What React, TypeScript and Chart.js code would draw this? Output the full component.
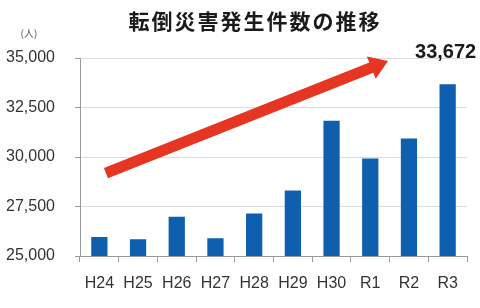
import React, { useEffect, useRef } from "react";
import { Chart, registerables } from "chart.js";

Chart.register(...registerables);

const TITLE = "転倒災害発生件数の推移";
const UNIT = "(人)";
const categories = ["H24", "H25", "H26", "H27", "H28", "H29", "H30", "R1", "R2", "R3"];
const cases = [25960, 25840, 26980, 25900, 27150, 28310, 31830, 29930, 30930, 33672];
const yTicks = [25000, 27500, 30000, 32500, 35000];
// trend arrow annotation in data coordinates: [categoryIndex, value]
const arrowStart = [0.17, 29190];
const arrowEnd = [7.46, 34850];

const NUM_FONT = "'Liberation Sans', Arial, sans-serif";

const overlay = {
  id: "overlay",
  afterDatasetsDraw(chart: any) {
    const { ctx, scales } = chart;
    const x = scales.x;
    const y = scales.y;
    ctx.save();
    // arrow
    const x0 = x.getPixelForValue(arrowStart[0]);
    const y0 = y.getPixelForValue(arrowStart[1]);
    const x1 = x.getPixelForValue(arrowEnd[0]);
    const y1 = y.getPixelForValue(arrowEnd[1]);
    const ang = Math.atan2(y1 - y0, x1 - x0);
    const headLen = 18;
    const headW = 12;
    const shaftW = 5.5;
    const bx = x1 - headLen * Math.cos(ang);
    const by = y1 - headLen * Math.sin(ang);
    const nx = -Math.sin(ang);
    const ny = Math.cos(ang);
    ctx.fillStyle = "#e63522";
    ctx.beginPath();
    ctx.moveTo(x0 + nx * shaftW, y0 + ny * shaftW);
    ctx.lineTo(bx + nx * shaftW, by + ny * shaftW);
    ctx.lineTo(bx + nx * headW, by + ny * headW);
    ctx.lineTo(x1, y1);
    ctx.lineTo(bx - nx * headW, by - ny * headW);
    ctx.lineTo(bx - nx * shaftW, by - ny * shaftW);
    ctx.lineTo(x0 - nx * shaftW, y0 - ny * shaftW);
    ctx.closePath();
    ctx.fill();

    // last value label
    const last = cases.length - 1;
    ctx.fillStyle = "#1a1a1a";
    ctx.font = "bold 20px 'Liberation Sans', Arial, sans-serif";
    ctx.textAlign = "center";
    ctx.textBaseline = "alphabetic";
    ctx.fillText(cases[last].toLocaleString("en-US"), x.getPixelForValue(last) - 2, y.getPixelForValue(35000));

    // title
    ctx.fillStyle = "#1a1a1a";
    ctx.font = "bold 21px 'Noto Sans CJK JP', sans-serif";
    (ctx as any).letterSpacing = "2px";
    ctx.textAlign = "center";
    ctx.textBaseline = "middle";
    ctx.fillText(TITLE, 255, 21);
    (ctx as any).letterSpacing = "0px";

    // unit
    ctx.fillStyle = "#555";
    ctx.font = "10px 'Noto Sans CJK JP', sans-serif";
    ctx.textAlign = "center";
    ctx.fillText(UNIT, 29, 33);
    ctx.restore();
  },
};

export default function App() {
  const ref = useRef<HTMLCanvasElement>(null);
  useEffect(() => {
    const chart = new Chart(ref.current!, {
      type: "bar",
      data: {
        labels: categories,
        datasets: [
          {
            data: cases,
            backgroundColor: "#0e5fae",
            barPercentage: 0.42,
            categoryPercentage: 1,
          },
        ],
      },
      options: {
        animation: false,
        responsive: false,
        layout: { padding: { top: 58, right: 13, left: 0, bottom: 0 } },
        plugins: { legend: { display: false }, tooltip: { enabled: false }, title: { display: false } },
        scales: {
          x: {
            grid: { display: true, drawOnChartArea: false, drawTicks: true, tickLength: 6, color: "#9a9a9a", offset: true },
            border: { color: "#9a9a9a" },
            ticks: { color: "#333", font: { family: NUM_FONT, size: 16 }, padding: 12, maxRotation: 0, minRotation: 0, autoSkip: false },
            afterFit: (s: any) => { s.height = 52; },
          },
          y: {
            min: 25000,
            max: 35000,
            afterBuildTicks: (s: any) => { s.ticks = yTicks.map((v) => ({ value: v })); },
            grid: { color: "#dcdcdc", tickLength: 5, tickColor: "#9a9a9a" },
            border: { color: "#9a9a9a" },
            ticks: {
              color: "#333",
              font: { family: NUM_FONT, size: 16 },
              padding: 20,
              callback: (v: any) => Number(v).toLocaleString("en-US"),
            },
            afterFit: (s: any) => { s.width = 80; },
          },
        },
      },
      plugins: [overlay],
    });
    return () => chart.destroy();
  }, []);
  return (
    <div style={{ position: "fixed", left: 0, top: 0, width: 480, height: 308, background: "#fff" }}>
      <canvas ref={ref} width={480} height={308} />
    </div>
  );
}
